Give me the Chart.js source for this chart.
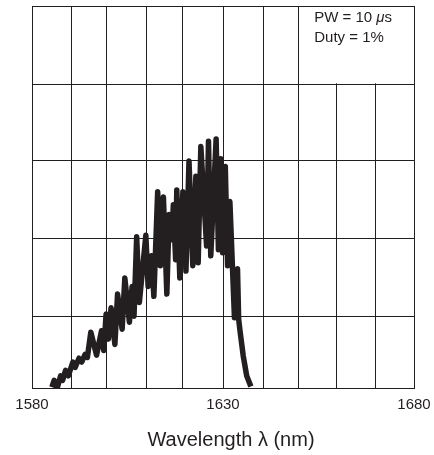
<!DOCTYPE html>
<html>
<head>
<meta charset="utf-8">
<script src="https://cdn.jsdelivr.net/npm/chart.js@4/dist/chart.umd.min.js"></script>
<style>
  html, body { margin: 0; padding: 0; background: #fff; }
  #wrap { width: 434px; height: 455px; }
</style>
</head>
<body>
<div id="wrap"><canvas id="spectrum"></canvas></div>
<script>
// spectrum trace (nm, arbitrary units where the grid is ~1 per line)
const wavelength = [
  1585.2, 1585.8, 1586.6, 1587.5, 1588.0, 1588.8, 1589.5, 1590.7, 1591.3, 1592.3,
  1593.0, 1593.9, 1594.5, 1595.4, 1596.9, 1598.2, 1598.8, 1599.4, 1600.0, 1600.7,
  1601.7, 1602.4, 1603.6, 1604.3, 1605.5, 1606.2, 1606.7, 1607.4, 1608.1, 1609.8,
  1610.4, 1611.3, 1611.9, 1612.9, 1613.6, 1614.4, 1615.3, 1615.9, 1616.6, 1617.0,
  1617.6, 1617.9, 1618.7, 1619.5, 1620.3, 1621.1, 1622.1, 1622.9, 1623.5, 1624.2,
  1625.0, 1625.7, 1626.2, 1626.8, 1628.2, 1628.8, 1629.4, 1629.9, 1630.6, 1631.2,
  1631.8, 1633.0, 1633.8, 1634.1, 1634.5, 1635.3, 1636.2, 1637.3
];
const power = [
  0.01, 0.10, 0.00, 0.16, 0.10, 0.23, 0.16, 0.34, 0.27, 0.39,
  0.34, 0.44, 0.40, 0.73, 0.43, 0.75, 0.49, 0.97, 0.64, 1.05,
  0.57, 1.23, 0.77, 1.44, 0.86, 1.33, 0.94, 1.98, 1.12, 2.00,
  1.33, 1.73, 1.20, 2.57, 1.60, 2.50, 1.23, 2.27, 1.94, 2.40,
  1.68, 2.59, 1.44, 2.57, 1.53, 2.97, 1.60, 2.77, 1.64, 3.16,
  2.47, 1.86, 3.23, 1.73, 3.26, 1.81, 3.00, 1.77, 2.90, 1.60,
  2.44, 0.92, 1.56, 0.90, 0.73, 0.42, 0.16, 0.02
];

const xGridTicks = [1580, 1590.3, 1599.6, 1610.1, 1619.5, 1630, 1640.5, 1649.7, 1659.8, 1669.8, 1680];
const xLabelTicks = [1580, 1630, 1680];
const yGridTicks = [0, 0.935, 1.957, 2.983, 3.975, 5];

const axisTitle = 'Wavelength λ (nm)';
const noteLine1 = ['PW = 10 ', 'μ', 's'];
const noteLine2 = 'Duty = 1%';

const ink = '#231f20';
const family = '"Liberation Sans", Arial, Helvetica, sans-serif';

const noteBox = {
  id: 'noteBox',
  beforeDatasetsDraw(chart) {
    // the box in the top right corner has no inner vertical lines
    const { ctx, chartArea, scales: { x, y } } = chart;
    const left = x.getPixelForValue(xGridTicks[7]);
    const bottom = y.getPixelForValue(yGridTicks[4]);
    ctx.save();
    ctx.fillStyle = '#fff';
    ctx.fillRect(left + 1, chartArea.top + 1, chartArea.right - left - 2, bottom - chartArea.top - 2);
    ctx.restore();
  },
  afterDraw(chart) {
    const { ctx, chartArea, scales: { x } } = chart;
    const left = x.getPixelForValue(xGridTicks[7]) + 16;
    ctx.save();
    ctx.fillStyle = ink;
    ctx.textBaseline = 'middle';
    ctx.textAlign = 'left';

    let cx = left;
    const y1 = chartArea.top + 12;
    noteLine1.forEach((part, i) => {
      ctx.font = (i === 1 ? 'italic ' : '') + '15px ' + family;
      ctx.fillText(part, cx, y1);
      cx += ctx.measureText(part).width;
    });
    ctx.font = '15px ' + family;
    ctx.fillText(noteLine2, left, y1 + 20);

    // axis title sits a bit right of the plot centre
    ctx.font = '20px ' + family;
    ctx.textAlign = 'center';
    ctx.fillText(axisTitle, (chartArea.left + chartArea.right) / 2 + 8, 440);
    ctx.restore();
  }
};

new Chart(document.getElementById('spectrum'), {
  type: 'line',
  data: {
    datasets: [{
      data: wavelength.map((w, i) => ({ x: w, y: power[i] })),
      borderColor: ink,
      borderWidth: 5.5,
      borderJoinStyle: 'round',
      borderCapStyle: 'butt',
      pointRadius: 0,
      tension: 0,
      fill: false
    }]
  },
  options: {
    responsive: true,
    maintainAspectRatio: false,
    animation: false,
    layout: { padding: { left: 32, right: 20, top: 6, bottom: 41 } },
    plugins: {
      legend: { display: false },
      tooltip: { enabled: false }
    },
    scales: {
      x: {
        type: 'linear',
        min: 1580,
        max: 1680,
        afterBuildTicks: s => { s.ticks = xGridTicks.map(v => ({ value: v })); },
        ticks: {
          autoSkip: false,
          maxRotation: 0,
          padding: 0,
          color: ink,
          font: { family: family, size: 15 },
          callback: v => xLabelTicks.includes(v) ? String(v) : ''
        },
        grid: { color: ink, lineWidth: 1, drawTicks: true, tickLength: 8, tickColor: 'rgba(0,0,0,0)' },
        border: { color: ink, width: 1 }
      },
      y: {
        min: 0,
        max: 5,
        afterBuildTicks: s => { s.ticks = yGridTicks.map(v => ({ value: v })); },
        ticks: { display: false },
        grid: { color: ink, lineWidth: 1, drawTicks: false },
        border: { color: ink, width: 1 }
      }
    }
  },
  plugins: [noteBox]
});
</script>
</body>
</html>
